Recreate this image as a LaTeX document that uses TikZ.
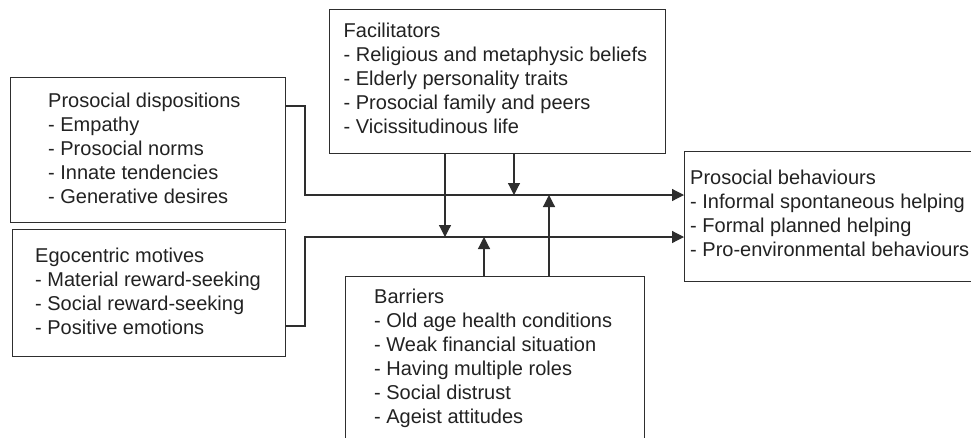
\documentclass[tikz,border=0pt]{standalone}
\usepackage{fontspec}
\setmainfont{Liberation Sans}
\usetikzlibrary{arrows.meta}
\definecolor{ink}{HTML}{2E2E2E}
\definecolor{txt}{HTML}{222222}
\begin{document}
\begin{tikzpicture}[x=1pt,y=-1pt,
  box/.style={draw=ink, line width=1.2pt, rectangle, inner sep=0pt, anchor=north west},
  lbl/.style={anchor=north west, inner sep=0pt, align=left, text=txt, font=\fontsize{20}{24}\selectfont},
  conn/.style={draw=ink, line width=1.2pt},
  arr/.style={conn, -{Triangle[length=12pt,width=12pt]}}]
\useasboundingbox (0,0) rectangle (971,437);
\clip (0,0) rectangle (971,437);
\fill[white] (0,0) rectangle (971,437);

% boxes
\node[box, minimum width=275pt, minimum height=145pt] (pd) at (10,77) {};
\node[box, minimum width=273pt, minimum height=127pt] (eg) at (12,229) {};
\node[box, minimum width=336pt, minimum height=144pt] (fac) at (329,9) {};
\node[box, minimum width=299pt, minimum height=200pt] (bar) at (345,276) {};
\node[box, minimum width=310pt, minimum height=130pt] (beh) at (684,151) {};

% texts
\node[lbl] (pdt) at (48,93.2) {Prosocial dispositions\\- Empathy\\- Prosocial norms\\- Innate tendencies\\- Generative desires};
\node[lbl] (egt) at (35,247.7) {Egocentric motives\\- Material reward-seeking\\- Social reward-seeking\\- Positive emotions};
\node[lbl] (fact) at (343.5,23.2) {Facilitators\\- Religious and metaphysic beliefs\\- Elderly personality traits\\- Prosocial family and peers\\- Vicissitudinous life};
\node[lbl] (bart) at (374,288.4) {Barriers\\- Old age health conditions\\- Weak financial situation\\- Having multiple roles\\- Social distrust\\- Ageist attitudes};
\node[lbl] (beht) at (690,170) {Prosocial behaviours\\- Informal spontaneous helping\\- Formal planned helping\\- Pro-environmental behaviours};

% helper coordinates
\coordinate (y1) at (0,106);
\coordinate (y2) at (0,326);
\coordinate (h1) at (0,195);
\coordinate (h2) at (0,237);
\coordinate (jx) at (305,0);
\coordinate (f1) at (445,0);
\coordinate (f2) at (514,0);
\coordinate (b1) at (484,0);
\coordinate (b2) at (549,0);

% connectors
\draw[arr] (pd.east |- y1) -- (jx |- y1) -- (jx |- h1) -- (beh.west |- h1);
\draw[arr] (eg.east |- y2) -- (jx |- y2) -- (jx |- h2) -- (beh.west |- h2);
\draw[arr] (fac.south -| f1) -- (f1 |- h2);
\draw[arr] (fac.south -| f2) -- (f2 |- h1);
\draw[arr] (bar.north -| b1) -- (b1 |- h2);
\draw[arr] (bar.north -| b2) -- (b2 |- h1);
\end{tikzpicture}
\end{document}
